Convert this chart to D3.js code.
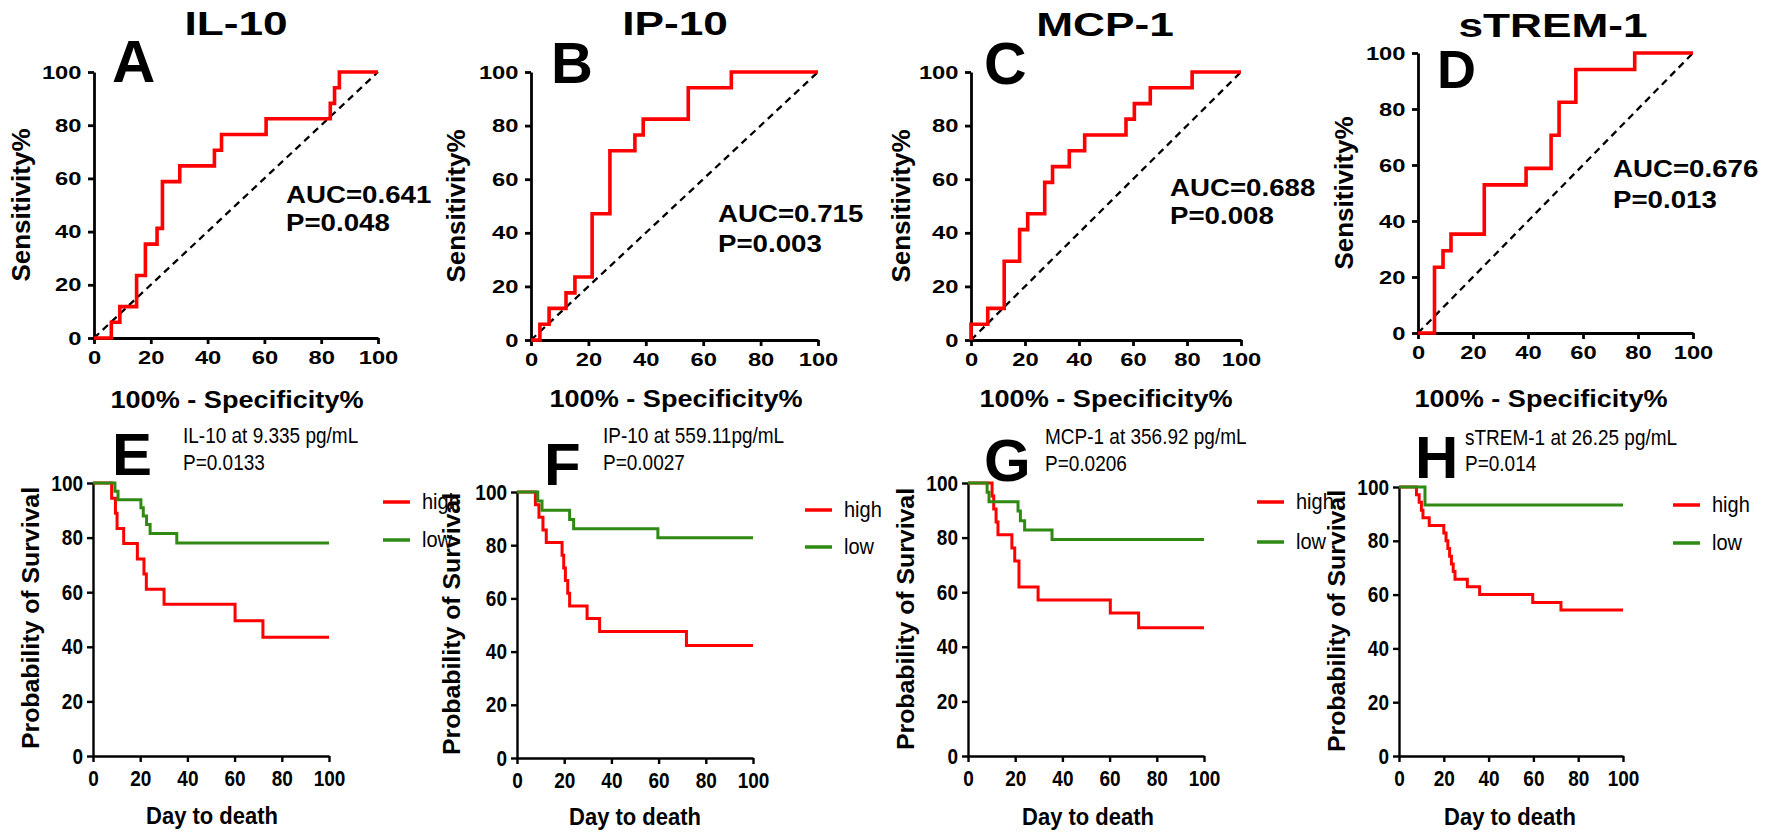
<!DOCTYPE html>
<html>
<head>
<meta charset="utf-8">
<script src="https://cdn.jsdelivr.net/npm/d3@7"></script>
<style>
  body { margin: 0; background: #fff; }
  svg { display: block; font-family: "Liberation Sans", Arial, sans-serif; }
</style>
</head>
<body>
<div id="chart"></div>
<script>
// ---- data ----
var markers = ["IL-10", "IP-10", "MCP-1", "sTREM-1"];
var rocLetters = ["A", "B", "C", "D"];
var kmLetters = ["E", "F", "G", "H"];
var aucText = ["AUC=0.641", "AUC=0.715", "AUC=0.688", "AUC=0.676"];
var rocPText = ["P=0.048", "P=0.003", "P=0.008", "P=0.013"];
var cutoffText = ["IL-10 at 9.335 pg/mL", "IP-10 at 559.11pg/mL", "MCP-1 at 356.92 pg/mL", "sTREM-1 at 26.25 pg/mL"];
var kmPText = ["P=0.0133", "P=0.0027", "P=0.0206", "P=0.014"];
var groupNames = ["high", "low"];
var tickValues = [0, 20, 40, 60, 80, 100];

// ROC: [100% - specificity, sensitivity] corners (step after)
var rocIL10 = [[0, 0], [6.1, 5.9], [9.1, 11.8], [15, 23.5], [18.1, 35.3], [22.2, 41.2], [24.1, 58.8], [30.2, 64.7],
               [42.4, 70.6], [44.9, 76.5], [60.6, 82.4], [83.2, 88.2], [84.7, 94.1], [86.4, 100], [100, 100]];
var rocIP10 = [[0, 0], [3.1, 5.9], [6.3, 11.8], [12.2, 17.6], [15.3, 23.5], [21.3, 47.1], [27.5, 70.6], [36.2, 76.5],
               [39.1, 82.4], [54.8, 94.1], [69.8, 100], [100, 100]];
var rocMCP1 = [[0, 0], [0, 5.9], [6.2, 11.8], [12.3, 29.4], [18, 41.2], [21, 47.1], [27.3, 58.8], [30.2, 64.7],
               [36.4, 70.6], [42.1, 76.5], [57.4, 82.4], [60.5, 88.2], [66.4, 94.1], [81.9, 100], [100, 100]];
var rocSTREM1 = [[0, 0], [6, 23.5], [9.1, 29.4], [12, 35.3], [24.1, 52.9], [39.3, 58.8], [48.4, 70.6], [51.3, 82.4],
                 [57.4, 94.1], [78.8, 100], [100, 100]];

// Kaplan-Meier: [day, survival %]
var kmIL10High = [[0, 100], [7.9, 94.4], [9.5, 88.9], [10.2, 83.3], [13, 77.8], [18.8, 72.2], [21.6, 66.7], [22.6, 61.1],
                  [30.1, 55.6], [60.2, 49.5], [72, 43.5], [100, 43.5]];
var kmIL10Low = [[0, 100], [9.3, 97], [10.6, 93.9], [20.3, 90.9], [21.3, 87.9], [22.7, 84.8], [24.2, 81.5], [35.5, 78], [100, 78]];
var kmIP10High = [[0, 100], [7.8, 95.2], [9.3, 90.5], [11, 85.7], [12.4, 81], [19.1, 76.2], [19.8, 71.4], [20.5, 66.7],
                  [21.5, 61.9], [22.3, 57.1], [29.7, 52.4], [35, 47.6], [71.8, 42.3], [100, 42.3]];
var kmIP10Low = [[0, 100], [8.8, 96.6], [10.6, 93.1], [22.3, 89.7], [24, 86.2], [59.7, 82.8], [100, 82.8]];
var kmMCP1High = [[0, 100], [10.2, 95.2], [10.9, 90.5], [11.9, 85.7], [12.7, 81], [18.6, 76.2], [19.8, 71.4], [21.6, 61.9],
                  [29.7, 57.1], [60.3, 52.4], [72.3, 47], [100, 47]];
var kmMCP1Low = [[0, 100], [8.1, 96.6], [8.9, 93.1], [21.2, 89.7], [22.2, 86.2], [24, 82.8], [35.6, 79.3], [100, 79.3]];
var kmSTREM1High = [[0, 100], [7.8, 97.1], [9, 94.3], [10, 91.4], [10.7, 88.6], [13.5, 85.7], [20, 82.9], [21, 80],
                    [21.8, 77.1], [22.6, 74.3], [23.4, 71.4], [24.2, 68.6], [25, 65.7], [30.5, 62.9], [36, 60],
                    [59.7, 57.1], [72.3, 54.3], [100, 54.3]];
var kmSTREM1Low = [[0, 100], [11.6, 93.3], [100, 93.3]];

var rocSeries = [rocIL10, rocIP10, rocMCP1, rocSTREM1];
var kmSeries = [[kmIL10High, kmIL10Low], [kmIP10High, kmIP10Low], [kmMCP1High, kmMCP1Low], [kmSTREM1High, kmSTREM1Low]];

// ---- layout (pixels) ----
var rocLayout = [
    {x0: 94,   x1: 378,  y0: 338, y1: 72, title: [236, 35],  letter: [112, 82, 60],  auc: [286, 203, 231],  sens: [22, 205],   spec: [237, 408]},
    {x0: 531,  x1: 818,  y0: 340, y1: 72, title: [675, 35],  letter: [551, 83, 58],  auc: [718, 222, 252],  sens: [457, 206],  spec: [676, 407]},
    {x0: 971,  x1: 1241, y0: 340, y1: 72, title: [1105, 36], letter: [984, 84, 59],  auc: [1170, 196, 224], sens: [902, 206],  spec: [1106, 407]},
    {x0: 1418, x1: 1693, y0: 333, y1: 53, title: [1553, 37], letter: [1437, 88, 54], auc: [1613, 177, 208], sens: [1345, 193], spec: [1541, 407]}
];
var kmLayout = [
    {x0: 93,   x1: 329,  y0: 756, y1: 483, letter: [112, 475],  note: [183, 443, 470],  prob: [32, 618],   day: [212, 824],  legend: [383, 502, 540]},
    {x0: 517,  x1: 753,  y0: 758, y1: 492, letter: [544, 485],  note: [603, 443, 470],  prob: [453, 624],  day: [635, 825],  legend: [805, 510, 547]},
    {x0: 968,  x1: 1204, y0: 756, y1: 483, letter: [984, 481],  note: [1045, 444, 471], prob: [907, 619],  day: [1088, 825], legend: [1257, 502, 542]},
    {x0: 1399, x1: 1623, y0: 756, y1: 487, letter: [1415, 478], note: [1465, 445, 471], prob: [1338, 621], day: [1510, 825], legend: [1673, 505, 543]}
];

var red = "#ff0000";
var green = "#2e8a12";

function init() {

    var w = 1778;
    var h = 840;

    var svg = d3.select("#chart")
                .append("svg")
                .attr("width", w)
                .attr("height", h);

    svg.append("rect").attr("width", w).attr("height", h).attr("fill", "#fff");

    // text helper: position, optional rotation and stretch
    function label(x, y, s, o) {
        var tr = "translate(" + x + "," + y + ")";
        if (o.rot) tr += " rotate(" + o.rot + ")";
        tr += " scale(" + (o.sx || 1) + "," + (o.sy || 1) + ")";
        return svg.append("text")
                  .attr("transform", tr)
                  .attr("text-anchor", o.anchor || "start")
                  .attr("dy", o.dy || 0)
                  .attr("font-size", o.size)
                  .attr("font-weight", o.bold ? "bold" : "normal")
                  .attr("fill", "#000")
                  .text(s);
    }

    function axes(x, y, o) {
        var gx = svg.append("g")
                    .attr("transform", "translate(0," + y.range()[0] + ")")
                    .call(d3.axisBottom(x).tickValues(tickValues).tickSize(6).tickSizeOuter(0).tickPadding(o.padX));
        var gy = svg.append("g")
                    .attr("transform", "translate(" + x.range()[0] + ",0)")
                    .call(d3.axisLeft(y).tickValues(tickValues).tickSize(6).tickSizeOuter(0).tickPadding(4));
        [gx, gy].forEach(function(g) {
            g.attr("font-family", null).attr("font-size", null);
            g.select(".domain").attr("stroke", "#000").attr("stroke-width", o.lw);
            g.selectAll(".tick line").attr("stroke", "#000").attr("stroke-width", o.lw);
            g.selectAll(".tick text")
             .attr("fill", "#000")
             .attr("font-size", o.fs)
             .attr("font-weight", "bold")
             .attr("transform", "scale(" + o.sx + "," + o.sy + ")");
        });
    }

    var stepLine = function(x, y) {
        return d3.line()
                 .x(function(d) { return x(d[0]); })
                 .y(function(d) { return y(d[1]); })
                 .curve(d3.curveStepAfter);
    };

    // ---- ROC row ----
    rocSeries.forEach(function(data, i) {
        var L = rocLayout[i];
        var x = d3.scaleLinear().domain([0, 100]).range([L.x0, L.x1]);
        var y = d3.scaleLinear().domain([0, 100]).range([L.y0, L.y1]);

        axes(x, y, {padX: 7, lw: 2.8, fs: 19, sx: 1.25, sy: 1});

        svg.append("line")
           .attr("x1", x(0)).attr("y1", y(0))
           .attr("x2", x(100)).attr("y2", y(100))
           .attr("stroke", "#000")
           .attr("stroke-width", 2.3)
           .attr("stroke-dasharray", "7,5");

        svg.append("path")
           .datum(data)
           .attr("d", stepLine(x, y))
           .attr("fill", "none")
           .attr("stroke", red)
           .attr("stroke-width", 3.6);

        label(L.title[0], L.title[1], markers[i], {size: 34, bold: true, anchor: "middle", sx: 1.3});
        label(L.letter[0], L.letter[1], rocLetters[i], {size: L.letter[2], bold: true});
        label(L.auc[0], L.auc[1], aucText[i], {size: 24.5, bold: true, sx: 1.13});
        label(L.auc[0], L.auc[2], rocPText[i], {size: 24.5, bold: true, sx: 1.13});
        label(L.sens[0], L.sens[1], "Sensitivity%", {size: 25, bold: true, anchor: "middle", rot: -90, dy: "0.3em", sx: 1.04});
        label(L.spec[0], L.spec[1], "100% - Specificity%", {size: 24, bold: true, anchor: "middle", sx: 1.13});
    });

    // ---- Kaplan-Meier row ----
    kmSeries.forEach(function(pair, i) {
        var L = kmLayout[i];
        var x = d3.scaleLinear().domain([0, 100]).range([L.x0, L.x1]);
        var y = d3.scaleLinear().domain([0, 100]).range([L.y0, L.y1]);

        axes(x, y, {padX: 7, lw: 2.4, fs: 19, sx: 1, sy: 1.15});

        pair.forEach(function(data, j) {
            svg.append("path")
               .datum(data)
               .attr("d", stepLine(x, y))
               .attr("fill", "none")
               .attr("stroke", j === 0 ? red : green)
               .attr("stroke-width", 3);
        });

        label(L.letter[0], L.letter[1], kmLetters[i], {size: 60, bold: true});
        label(L.note[0], L.note[1], cutoffText[i], {size: 19, sy: 1.12});
        label(L.note[0], L.note[2], kmPText[i], {size: 19, sy: 1.12});
        label(L.prob[0], L.prob[1], "Probability of Survival", {size: 23, bold: true, anchor: "middle", rot: -90, dy: "0.3em", sx: 1.08});
        label(L.day[0], L.day[1], "Day to death", {size: 22, bold: true, anchor: "middle", sy: 1.12});

        // legend
        groupNames.forEach(function(name, j) {
            var ly = L.legend[1 + j];
            svg.append("line")
               .attr("x1", L.legend[0]).attr("x2", L.legend[0] + 27)
               .attr("y1", ly).attr("y2", ly)
               .attr("stroke", j === 0 ? red : green)
               .attr("stroke-width", 3.5);
            label(L.legend[0] + 39, ly + 7, name, {size: 20, sy: 1.1});
        });
    });
}

window.onload = init;
</script>
</body>
</html>
